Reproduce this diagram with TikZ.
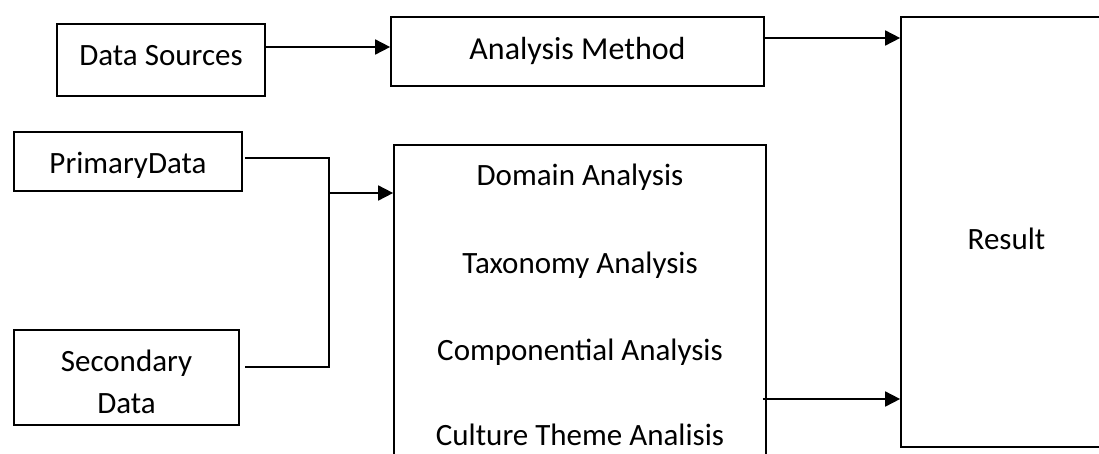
\documentclass[tikz,border=0pt]{standalone}
\usepackage{fontspec}
\setmainfont{Carlito}
\usetikzlibrary{arrows.meta,calc}

\tikzset{
  box/.style={draw, line width=1.7pt, inner sep=0pt, anchor=center},
  txt/.style={inner sep=0pt, anchor=base, align=center, font=\fontsize{31}{42}\selectfont},
  link/.style={line width=1.7pt},
  arr/.style={line width=1.7pt, -{Triangle[length=15pt,width=15pt]}},
}

\begin{document}
\begin{tikzpicture}[x=1pt,y=-1pt]
  \useasboundingbox (0,0) rectangle (1099,453);
  \clip (0,0) rectangle (1099,453);
  \fill[white] (0,0) rectangle (1099,453);

  % upper row
  \node[box, minimum width=208pt, minimum height=72pt] (ds) at (161,60) {};
  \node[txt] (dst) at (161,65) {Data Sources};
  \node[box, minimum width=373pt, minimum height=69pt] (am) at (577.5,51.5) {};
  \node[txt, font=\fontsize{32}{42}\selectfont] (amt) at (577.5,59) {Analysis Method};

  % result box, running past the right edge
  \node[box, minimum width=220pt, minimum height=430pt] (res) at (1011,232) {};
  \node[txt] (rest) at (1006.5,249) {Result};

  % data boxes
  \node[box, minimum width=228pt, minimum height=59pt] (pd) at (128,161.5) {};
  \node[txt] (pdt) at (128,173) {PrimaryData};
  \node[box, minimum width=225pt, minimum height=95pt] (sd) at (126.5,377.5) {};
  % base of a two-line node is the baseline of its last line
  \node[txt] (sdt) at (126.5,413) {Secondary\\Data};

  % analysis methods box, running past the lower edge
  \node[box, minimum width=372pt, minimum height=360pt] (mb) at (580,325) {};
  \node[txt] (m1) at (580,185) {Domain Analysis};
  \node[txt] (m2) at (580,273) {Taxonomy Analysis};
  \node[txt] (m3) at (580,360) {Componential Analysis};
  \node[txt] (m4) at (580,445) {Culture Theme Analisis};

  % connectors
  \draw[arr] ([yshift=13pt]ds.east) -- ([yshift=13pt]ds.east -| am.west);
  \draw[arr] ([yshift=13.5pt,xshift=-2pt]am.east) -- ([yshift=13.5pt]am.east -| res.west);

  \coordinate (jtop) at (329,158);
  \coordinate (jmid) at (329,193);
  \coordinate (jbot) at (329,367);
  \draw[link] ([xshift=2pt,yshift=3.5pt]pd.east) -- (jtop) -- (jbot) -- ([xshift=5pt,yshift=10.5pt]sd.east);
  \draw[arr] (jmid) -- (jmid -| mb.west);

  \draw[arr] ([xshift=-4pt]mb.east |- 0,399) -- (res.west |- 0,399);
\end{tikzpicture}
\end{document}
